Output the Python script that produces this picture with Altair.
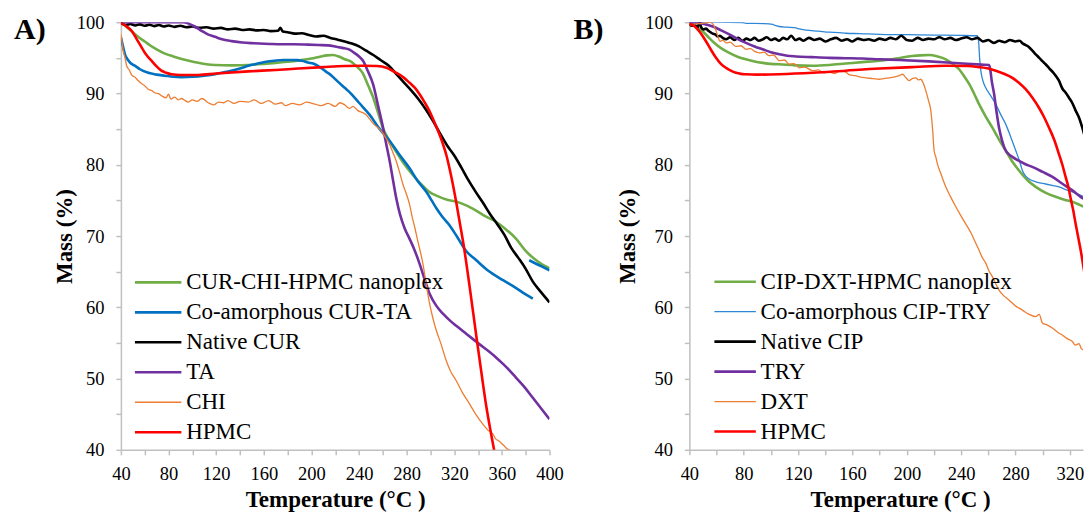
import altair as alt
import pandas as pd

# ---------------- axis values ----------------
TEMP_TICKS_A = list(range(40, 401, 20))
TEMP_TICKS_B = list(range(40, 321, 20))
MASS_TICKS = list(range(40, 101, 5))

# ---------------- panel A ----------------
NAMES_A = ["CUR-CHI-HPMC nanoplex", "Co-amorphous CUR-TA", "Native CUR", "TA", "CHI", "HPMC"]
COLORS_A = ["#70AD47", "#0070C0", "#000000", "#7030A0", "#ED7D31", "#FF0000"]
WIDTHS_A = [2.6, 2.6, 2.6, 2.6, 1.3, 2.6]

A_NANOPLEX = [(40, 100.0), (45, 99.3), (50, 98.6), (55, 97.9), (60, 97.3), (65, 96.7), (70, 96.2), (77, 95.6),
              (84, 95.2), (91, 94.85), (98, 94.55), (105, 94.3), (112, 94.1), (119, 94.0), (133, 93.95), (147, 94.0),
              (160, 94.15), (170, 94.3), (180, 94.45), (190, 94.65), (200, 94.9), (208, 95.2), (213, 95.35),
              (218, 95.4), (223, 95.2), (228, 94.8), (233, 94.5), (238, 93.8), (243, 92.9), (248, 91.0),
              (252, 89.4), (256, 87.3), (260, 85.2), (265, 83.5), (271, 81.9), (278, 80.1), (285, 78.6),
              (292, 77.3), (299, 76.2), (306, 75.6), (314, 75.1), (322, 74.8), (330, 74.3), (338, 73.6),
              (346, 72.8), (355, 72.0), (363, 71.0), (372, 69.6), (380, 67.9), (388, 66.7), (394, 66.0), (400, 65.5)]
A_COAMORPH = [(40, 97.9), (41.5, 96.8), (43.4, 95.5), (46, 94.7), (48.5, 94.2), (51.7, 93.9), (56, 93.4),
              (63, 92.9), (70, 92.65), (77, 92.5), (84, 92.35), (91, 92.3), (100, 92.35), (110, 92.5), (119, 92.7),
              (130, 93.1), (140, 93.5), (147, 93.9), (155, 94.2), (162, 94.45), (169, 94.6), (176, 94.7),
              (183, 94.7), (188, 94.68), (192, 94.6), (197, 94.35), (203, 94.1), (208, 93.6), (212, 93.1),
              (217, 92.5), (222, 91.7), (228, 90.8), (232, 90.2), (240, 88.7), (249, 87.0), (257, 85.1),
              (266, 83.3), (274, 81.4), (282.5, 79.5), (289, 77.8), (296.5, 76.2), (301, 75.0), (305, 73.9),
              (310, 72.7), (316, 71.5), (322, 70.0), (330, 67.9), (338.5, 66.6), (348, 65.2), (361, 63.8),
              (372, 62.7), (380, 61.8), (386, 61.2)]
A_COAMORPH_TAIL = [(383, 66.6), (390, 66.0), (395, 65.6), (400, 65.2)]
A_NATIVE = [(40, 99.9), (44, 99.6), (48, 99.75), (52, 99.55), (56, 99.7), (60, 99.5), (64, 99.65), (68, 99.45),
            (72, 99.6), (76, 99.4), (80, 99.55), (85, 99.35), (90, 99.5), (95, 99.3), (100, 99.4), (106, 99.2),
            (112, 99.3), (118, 99.1), (124, 99.2), (130, 99.0), (136, 99.1), (142, 98.9), (148, 99.0),
            (154, 98.85), (160, 98.9), (166, 98.75), (172, 98.8), (174, 99.2), (176, 98.7), (180, 98.6),
            (186, 98.4), (192, 98.45), (198, 98.2), (204, 98.0), (210, 98.1), (216, 97.8), (222, 97.55),
            (228, 97.3), (234, 97.0), (240, 96.6), (246, 96.0), (252, 95.4), (258, 94.7), (265, 93.9),
            (272, 92.6), (278, 91.5), (284, 90.4), (290, 89.2), (296, 87.8), (302, 86.2), (308, 84.4),
            (314, 82.7), (320, 81.3), (326, 79.6), (332, 77.8), (338, 76.2), (344, 74.7), (350, 73.1),
            (356, 71.7), (362, 70.2), (368, 68.3), (374, 66.9), (380, 65.4), (386, 63.6), (392, 62.3), (400, 60.7)]
A_TA = [(40, 100.0), (60, 100.0), (80, 100.0), (92, 100.0), (97, 99.8), (102, 99.4), (107.7, 98.8), (113, 98.3),
        (119, 97.95), (125, 97.6), (133, 97.35), (142, 97.15), (152, 97.05), (165, 96.95), (175, 96.9),
        (185, 96.9), (197, 96.85), (206, 96.8), (214, 96.75), (220, 96.6), (226, 96.4), (232, 96.15),
        (236, 95.7), (240, 95.2), (243.4, 94.6), (247, 93.3), (251.8, 91.3), (256, 88.3), (260.2, 85.2),
        (263, 82.8), (265.8, 80.5), (268.5, 77.9), (271.3, 75.3), (274.5, 73.0), (278.3, 71.1), (282.5, 69.6),
        (286, 68.3), (290.9, 66.1), (295, 64.0), (299.3, 61.9), (305, 60.2), (310.5, 59.1), (316, 58.2),
        (321.7, 57.4), (330, 56.3), (341.3, 54.8), (350, 53.7), (358.1, 52.5), (365, 51.4), (372, 50.1),
        (379, 48.8), (386, 47.3), (393, 45.8), (400, 44.3)]
A_CHI = [(40, 98.3), (41, 97.2), (42, 96.0), (43.5, 95.0), (44.8, 93.9), (47, 93.3), (49, 92.6), (51.7, 92.3),
         (54, 91.9), (57.3, 91.4), (60, 91.1), (63, 90.6), (66, 90.4), (68.5, 90.1), (72, 89.95), (75, 89.6),
         (78, 89.4), (80, 89.9), (82, 89.2), (85.3, 89.5), (88, 89.1), (91, 89.3), (94, 89.0), (96.5, 88.8),
         (100, 89.1), (104, 88.9), (108, 89.3), (113.3, 88.7), (118, 88.4), (122, 88.8), (126, 88.7),
         (130, 89.0), (135, 88.6), (140, 88.9), (147, 88.8), (152, 89.1), (158, 88.6), (164, 89.0), (170, 88.5),
         (175, 88.7), (178, 88.3), (184, 88.6), (190, 88.4), (196, 88.8), (203, 88.5), (208, 88.3), (214, 88.6),
         (220, 88.2), (224, 88.7), (228, 88.4), (232, 87.9), (235, 88.2), (239, 87.6), (243.4, 87.3),
         (246, 87.0), (249, 86.4), (253, 85.6), (257.4, 85.0), (261, 84.2), (265.8, 82.8), (268.5, 81.7),
         (271.3, 80.5), (274, 79.0), (277, 77.2), (280, 75.8), (282.5, 74.4), (284.5, 72.8), (286.7, 71.3),
         (289.5, 69.2), (293.7, 66.1), (296.5, 63.2), (299.3, 60.5), (302, 58.5), (305, 56.7), (309, 54.8),
         (313.3, 52.5), (317, 51.0), (321.7, 49.7), (327, 48.0), (333, 46.4), (338, 45.0), (344, 43.6),
         (348, 42.8), (352.5, 42.2), (355, 41.5), (357, 41.3), (361, 40.7), (364, 40.2), (368, 39.8), (372, 39.4)]
A_HPMC = [(40, 99.9), (44, 99.5), (49, 98.8), (53, 97.7), (57.3, 96.5), (61, 95.5), (65.7, 94.6), (70, 93.8),
          (74, 93.2), (78, 92.9), (82.5, 92.7), (90, 92.6), (105, 92.6), (120, 92.8), (147, 93.1), (170, 93.3),
          (189, 93.5), (210, 93.7), (228, 93.85), (243, 93.9), (255, 93.85), (263, 93.6), (267, 93.3),
          (271.3, 92.9), (277, 92.3), (282.5, 91.5), (287, 90.8), (290.9, 89.9), (295, 88.8), (299.3, 87.5),
          (303.5, 85.9), (307.7, 84.2), (310.5, 82.9), (313.3, 81.4), (316, 79.5), (318.9, 77.2), (321.7, 74.7),
          (324.5, 72.0), (328, 68.6), (333, 62.8), (338.5, 56.0), (343, 50.6), (347, 46.0), (351, 42.2),
          (355, 38.6)]

# ---------------- panel B ----------------
NAMES_B = ["CIP-DXT-HPMC nanoplex", "Co-amorphous CIP-TRY", "Native CIP", "TRY", "DXT", "HPMC"]
COLORS_B = ["#70AD47", "#2E86D6", "#000000", "#7030A0", "#ED7D31", "#FF0000"]
WIDTHS_B = [2.6, 1.3, 2.6, 2.6, 1.3, 2.6]

B_NANOPLEX = [(40, 99.9), (45, 99.4), (49.8, 98.7), (53.5, 98.0), (57.2, 97.3), (63, 96.4), (69.4, 95.7),
              (75, 95.2), (81.7, 94.8), (88, 94.5), (94, 94.3), (100, 94.15), (106, 94.1), (118, 93.95),
              (131, 93.9), (143, 94.0), (155, 94.2), (167, 94.4), (180, 94.6), (192, 94.9), (204, 95.25),
              (210, 95.35), (216.5, 95.4), (222.5, 95.2), (228.7, 94.8), (233.5, 94.2), (238.5, 93.4), (242, 92.5),
              (246, 91.3), (249.5, 90.0), (253.2, 88.5), (258, 86.8), (263, 85.2), (268, 83.5), (272.8, 82.0),
              (277.5, 80.5), (282.6, 79.2), (288.5, 77.9), (294.9, 76.9), (302, 76.1), (309.6, 75.5), (316, 75.1),
              (321.9, 74.8), (328, 74.3), (335.6, 73.7), (340, 73.4)]
B_COAMORPH = [(40, 100.0), (60, 100.0), (79, 99.95), (81.7, 99.85), (95, 99.8), (101.3, 99.7), (103, 99.55),
              (106, 99.4), (112, 99.3), (118.4, 99.2), (121, 99.05), (125.8, 98.9), (135, 98.75), (143, 98.6),
              (150, 98.55), (155.2, 98.45), (165, 98.4), (179.7, 98.3), (200, 98.25), (220, 98.2), (240, 98.15),
              (252, 98.1), (253, 97.0), (253.6, 95.0), (254.5, 93.2), (256, 91.8), (258.1, 90.8), (261, 89.9),
              (265.5, 88.5), (269, 87.1), (272.8, 85.7), (276.5, 83.9), (280.2, 82.0), (283, 80.5), (285.1, 79.2),
              (287.5, 78.4), (290, 78.0), (295, 77.6), (302.2, 77.3), (307, 77.1), (312, 76.9), (317, 76.5),
              (321.9, 76.2), (328, 75.7), (335.6, 75.1), (340, 74.8)]
B_NATIVE = [(40, 99.7), (42, 99.5), (44, 99.6), (46, 99.3), (47.4, 99.9), (49, 99.2), (50.5, 99.0), (52.3, 99.1),
            (54, 98.8), (55.5, 98.6), (57.2, 98.4), (59, 98.3), (61, 98.0), (62.5, 98.1), (64.5, 97.8), (67, 97.6),
            (70, 97.9), (73, 97.5), (76, 97.8), (79, 97.4), (82, 97.7), (85, 97.5), (88, 97.8), (91, 97.4),
            (94, 97.6), (97, 97.9), (100, 97.5), (103, 97.7), (106, 97.4), (109, 97.8), (112, 97.6), (115, 98.1),
            (118, 97.5), (121, 97.7), (124, 97.4), (128, 97.8), (132, 97.5), (136, 97.7), (140, 97.3), (144, 97.6),
            (148, 97.8), (152, 97.4), (156, 97.6), (160, 97.3), (164, 97.7), (168, 97.5), (172, 97.6), (176, 97.4),
            (180, 97.7), (184, 97.5), (188, 97.8), (192, 97.6), (196, 98.1), (200, 97.5), (204, 97.4), (208, 97.8),
            (212, 97.5), (216, 97.7), (220, 97.6), (224, 97.9), (228, 97.6), (232, 97.8), (236, 97.5), (240, 97.7),
            (244, 97.9), (248, 97.6), (252, 97.8), (256, 97.3), (260, 97.5), (264, 97.1), (268, 97.4), (272, 97.2),
            (276, 97.5), (280, 97.3), (283, 97.4), (285.5, 97.0), (287.5, 96.8), (290, 96.5), (292.5, 96.0),
            (294.9, 95.5), (297.5, 95.0), (300, 94.5), (302.2, 94.1), (305, 93.5), (307.5, 93.0), (309.6, 92.5),
            (312, 91.8), (314.5, 90.7), (317, 90.1), (319.4, 89.4), (322, 88.6), (324.3, 87.6), (327, 86.5),
            (329.2, 85.2), (331, 84.0), (332.9, 82.9), (334.5, 81.8), (335.6, 81.1), (338, 79.5), (340, 78.3)]
B_TRY = [(40, 100.0), (50, 99.8), (57.2, 99.4), (63, 98.9), (69.4, 98.3), (75, 97.7), (81.7, 97.1), (88, 96.6),
         (93.9, 96.2), (100, 95.8), (106.2, 95.5), (112, 95.3), (118.4, 95.2), (130, 95.1), (143, 95.0),
         (155, 94.95), (167.5, 94.9), (179.7, 94.8), (194.4, 94.7), (216.5, 94.5), (241, 94.2), (255, 94.05),
         (260.6, 94.0), (261.5, 93.3), (262.5, 91.8), (264.3, 89.9), (266, 87.5), (267.9, 85.2), (270, 83.5),
         (272.8, 82.0), (275, 81.5), (277.7, 81.1), (282, 80.6), (287, 80.1), (292.4, 79.7), (300, 79.0),
         (307.2, 78.3), (314, 77.4), (321.9, 76.4), (328, 75.5), (335.6, 74.6), (340, 74.0)]
B_DXT = [(40, 99.6), (47, 99.8), (52, 99.9), (55, 100.0), (57.5, 99.7), (59.6, 98.8), (61, 98.0), (62.5, 97.3),
         (64.5, 97.5), (67, 97.1), (70, 97.2), (74.3, 96.6), (78, 96.7), (81.7, 96.2), (85, 96.3), (88, 95.9),
         (91.5, 95.7), (95, 95.8), (98.8, 95.3), (102, 95.4), (106.2, 94.6), (110, 94.7), (113.5, 94.1),
         (117, 94.2), (120.9, 93.6), (125, 93.7), (130.7, 93.2), (135, 93.3), (139, 92.9), (143, 93.0),
         (147, 92.8), (151, 93.2), (155.2, 93.0), (158, 92.6), (162, 92.5), (166, 92.3), (169.9, 92.2),
         (175, 92.1), (179.7, 92.0), (183, 92.1), (187, 92.2), (190.5, 92.3), (194.4, 92.5), (196.9, 92.7),
         (199, 92.3), (201.8, 91.8), (204, 92.1), (206.7, 92.2), (208.5, 91.9), (210.3, 92.0), (212, 91.5),
         (214, 90.4), (216, 89.0), (217.7, 87.6), (219, 85.0), (220.1, 82.0), (221.5, 81.0), (222.6, 80.1),
         (225, 78.8), (228.7, 76.9), (232, 75.6), (236.1, 74.1), (240, 72.8), (243.4, 71.7), (247.1, 70.5),
         (250.8, 69.0), (253.2, 68.0), (255.5, 67.0), (258.1, 66.2), (260.5, 65.1), (263, 64.3), (265.5, 63.3),
         (267.9, 62.4), (271.5, 61.6), (275.3, 61.0), (280, 60.2), (285.1, 59.6), (290, 59.0), (294.9, 58.7),
         (297.5, 59.0), (299.8, 57.8), (303.5, 57.5), (307.1, 57.1), (311, 56.5), (314.5, 56.1), (318, 55.6),
         (321.9, 55.2), (324, 54.7), (326.8, 54.9), (328.5, 54.2), (330.4, 54.0), (332.5, 53.8), (335.6, 53.8),
         (340, 53.7)]
B_HPMC = [(40, 99.8), (44, 99.4), (47.4, 98.7), (50, 98.0), (52.3, 97.3), (56, 96.1), (59.6, 95.0), (63, 94.2),
          (67, 93.6), (70.5, 93.2), (74.3, 92.9), (78, 92.75), (81.7, 92.7), (90, 92.65), (106, 92.7), (131, 92.9),
          (155, 93.2), (180, 93.5), (204, 93.7), (229, 93.9), (245, 93.85), (253, 93.7), (260, 93.5),
          (265.5, 93.2), (271, 92.8), (277.7, 92.2), (282.5, 91.5), (287.5, 90.6), (292.5, 89.4), (297.3, 88.0),
          (301, 86.7), (304.7, 85.2), (308.5, 83.5), (312, 81.5), (314.5, 80.0), (316.9, 78.3), (318.8, 77.0),
          (320.6, 75.3), (322.5, 73.6), (324.3, 71.7), (326, 70.0), (328, 68.0), (330, 65.7), (332, 63.4),
          (335.6, 59.2), (338, 56.4), (340, 54.1)]

PANEL_TAGS = ["A)", "B)"]

FONT = "Liberation Serif"
GREY = "#c0c0c0"


def frame(parts):
    rows = []
    for name, seg, pts in parts:
        for t, m in pts:
            rows.append({"series": name, "seg": seg, "T": t, "M": m})
    return pd.DataFrame(rows)


df_a = frame([
    (NAMES_A[0], "a0", A_NANOPLEX), (NAMES_A[1], "a1", A_COAMORPH), (NAMES_A[1], "a1b", A_COAMORPH_TAIL),
    (NAMES_A[2], "a2", A_NATIVE), (NAMES_A[3], "a3", A_TA), (NAMES_A[4], "a4", A_CHI), (NAMES_A[5], "a5", A_HPMC),
])
df_b = frame([
    (NAMES_B[0], "b0", B_NANOPLEX), (NAMES_B[1], "b1", B_COAMORPH), (NAMES_B[2], "b2", B_NATIVE),
    (NAMES_B[3], "b3", B_TRY), (NAMES_B[4], "b4", B_DXT), (NAMES_B[5], "b5", B_HPMC),
])


def panel(df, names, colors, widths, xmax, xticks, tag, tag_dx, leg_x, leg_y, sym_len, plot_w,
          ytitle_pad, title_x=None):
    legend = alt.Legend(orient="none", legendX=leg_x, legendY=leg_y, direction="vertical", title=None,
                        symbolType="stroke", symbolSize=sym_len * sym_len, clipHeight=29.6, rowPadding=0,
                        padding=0, labelFont=FONT, labelFontSize=23, labelColor="black", labelOffset=3,
                        labelLimit=600)
    xaxis_kw = dict(values=xticks, labelExpr="datum.value % 40 == 0 ? datum.label : ''",
                    title="Temperature (°C )", labelPadding=10, titlePadding=5)
    if title_x is not None:
        xaxis_kw["titleX"] = title_x
    lines = (
        alt.Chart(df)
        .mark_line(interpolate="monotone", clip=True)
        .encode(
            x=alt.X("T:Q", scale=alt.Scale(domain=[40, xmax], nice=False, zero=False), axis=alt.Axis(**xaxis_kw)),
            y=alt.Y("M:Q", scale=alt.Scale(domain=[40, 100], nice=False, zero=False),
                    axis=alt.Axis(values=MASS_TICKS, labelExpr="datum.value % 10 == 0 ? datum.label : ''",
                                  title="Mass (%)", labelPadding=12, titlePadding=ytitle_pad)),
            color=alt.Color("series:N", scale=alt.Scale(domain=names, range=colors), legend=legend),
            strokeWidth=alt.StrokeWidth("series:N", scale=alt.Scale(type="ordinal", domain=names, range=widths),
                                        legend=legend),
            detail="seg:N",
        )
    )
    tag_text = (
        alt.Chart(pd.DataFrame({"tag": [tag]}))
        .mark_text(font=FONT, fontSize=30, fontWeight="bold", color="black", align="left", baseline="alphabetic")
        .encode(x=alt.value(tag_dx), y=alt.value(17), text="tag:N")
    )
    return alt.layer(lines, tag_text).properties(width=plot_w, height=428)


chart_a = panel(df_a, NAMES_A, COLORS_A, WIDTHS_A, 400, TEMP_TICKS_A, PANEL_TAGS[0], -107, 12.3, 245.6, 46.5,
                429, 0)
chart_b = panel(df_b, NAMES_B, COLORS_B, WIDTHS_B, 329.7, TEMP_TICKS_B, PANEL_TAGS[1], -116, 23.3, 244.9, 41.5,
                394, 5, title_x=211)

chart = (
    alt.hconcat(chart_a, chart_b, spacing=10)
    .resolve_scale(color="independent", strokeWidth="independent")
    .resolve_legend(color="independent", strokeWidth="independent")
    .properties(padding={"left": 6, "top": 5, "right": 0, "bottom": 0})
    .configure_view(stroke=None)
    .configure_axis(grid=False, domainColor=GREY, domainWidth=1.5, tickColor=GREY, tickWidth=1.5, tickSize=5,
                    labelFont=FONT, labelFontSize=18.5, labelColor="black", titleFont=FONT, titleFontSize=23,
                    titleFontWeight="bold", titleColor="black", labelFlush=False, labelOverlap=False)
)

chart.save("out.html", embed_options={"renderer": "svg", "actions": False})
